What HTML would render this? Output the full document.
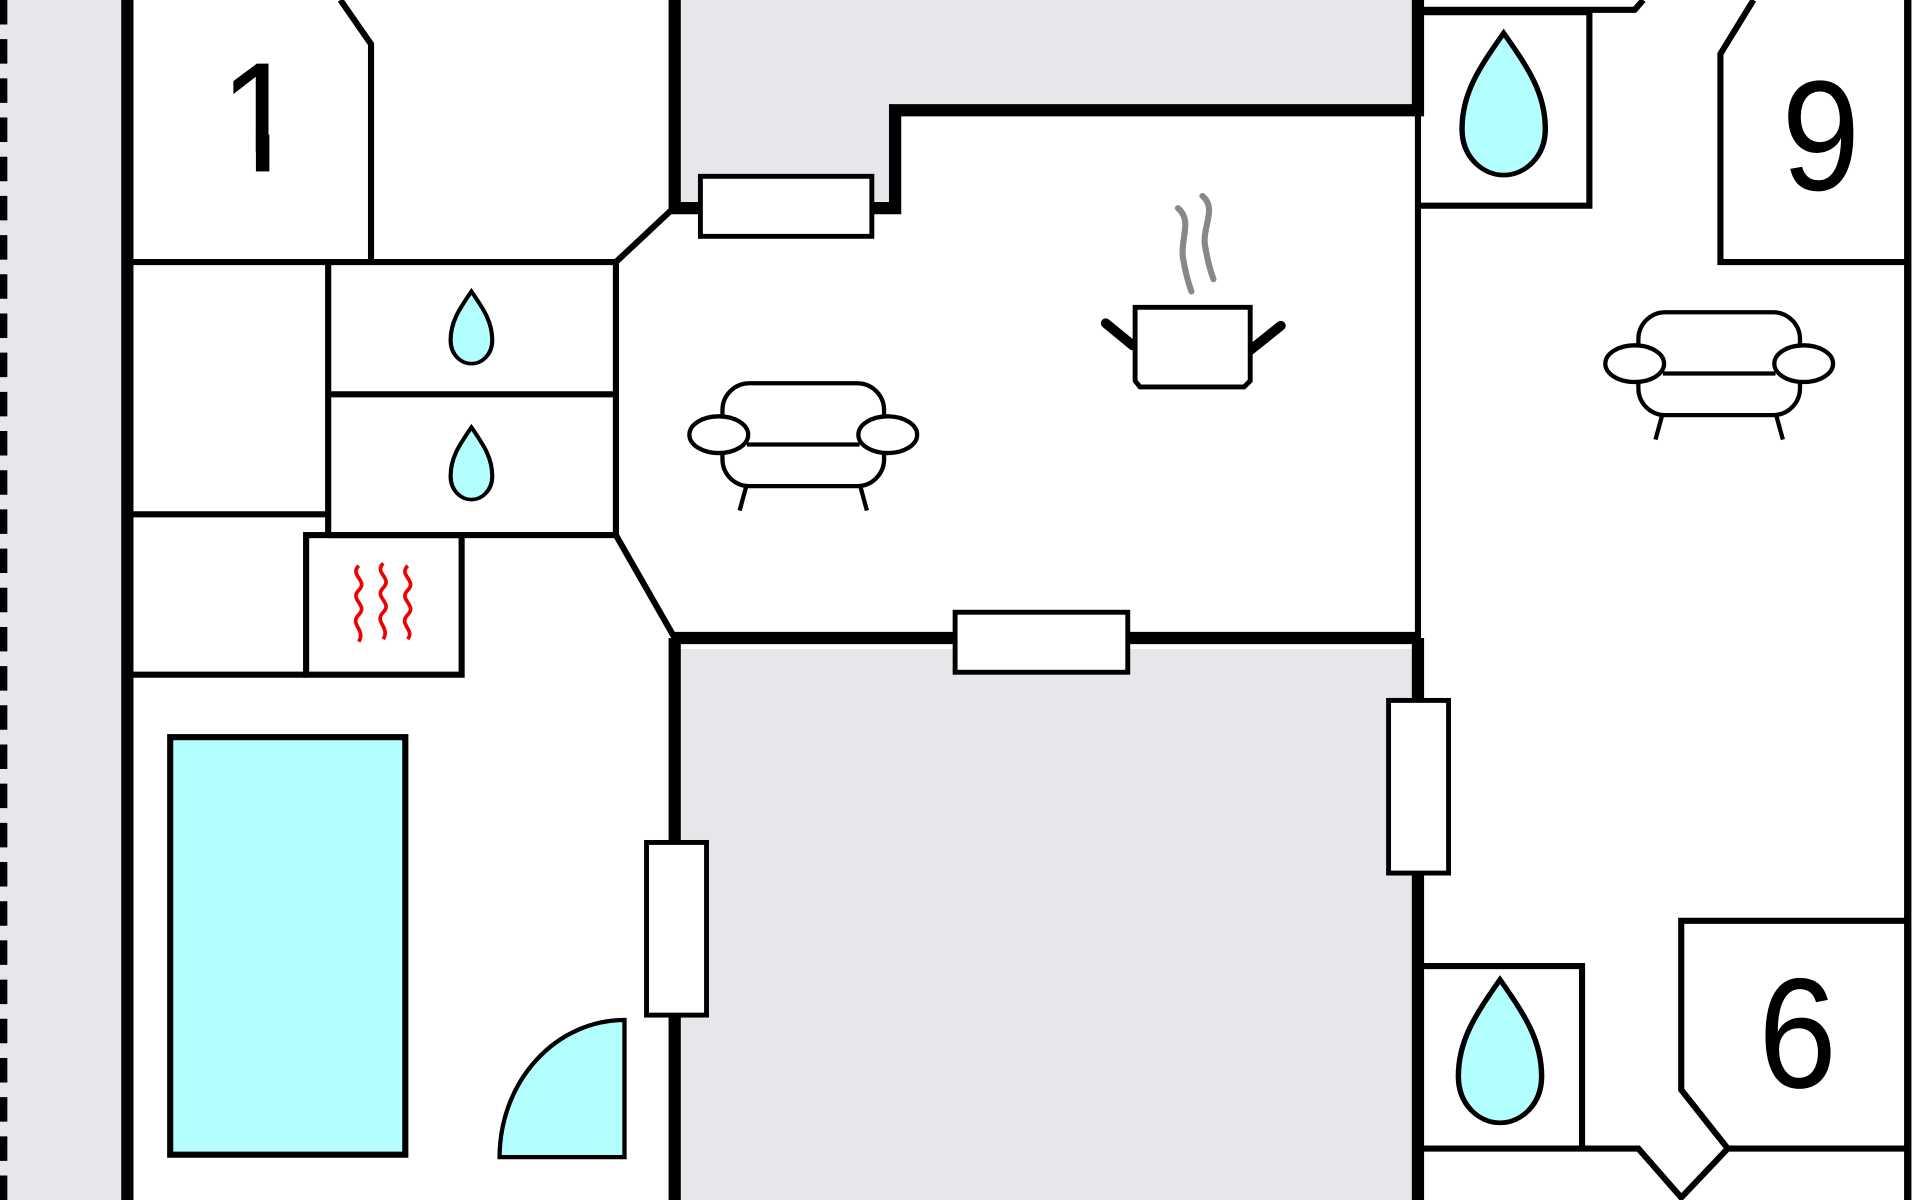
<!DOCTYPE html>
<html><head><style>html,body{margin:0;padding:0;background:#fff}svg{display:block}</style></head>
<body>
<svg width="1920" height="1200" viewBox="0 0 1568 980" xmlns="http://www.w3.org/2000/svg">
<defs>
<path id="drop" d="M0,-1 C-0.3,-0.5 -0.5,-0.15 -0.5,0.35 C-0.5,0.75 -0.25,1 0,1 C0.25,1 0.5,0.75 0.5,0.35 C0.5,-0.15 0.3,-0.5 0,-1 Z"/>
<g id="sofa" fill="#fff" stroke="#000" stroke-width="3.5">
<line x1="-46" y1="40" x2="-52" y2="62"/><line x1="46" y1="40" x2="52" y2="62"/>
<rect x="-66" y="-42" width="132" height="84" rx="22"/>
<line x1="-46" y1="8" x2="46" y2="8"/>
<ellipse cx="-69" cy="0" rx="24" ry="15"/><ellipse cx="69" cy="0" rx="24" ry="15"/>
</g>
</defs>
<rect width="1568" height="980" fill="#fff"/>
<rect x="0" y="0" width="100" height="980" fill="#e6e6eb"/>
<line x1="3" y1="0" x2="3" y2="980" stroke="#000" stroke-width="6" stroke-dasharray="20,12"/>
<path d="M556,0 H1155 V85 H728 V165 H556 Z" fill="#e6e6eb"/>
<rect x="556" y="530" width="599" height="450" fill="#e6e6eb"/>
<g font-family="Liberation Sans, Arial, sans-serif" font-size="128" fill="#000" text-anchor="middle">
<text x="212" y="140" transform="translate(212,0) scale(0.92,1) translate(-212,0)">1</text>
<text x="1487" y="155" transform="translate(1487,0) scale(0.9,1) translate(-1487,0)">9</text>
<text x="1468" y="888" transform="translate(1468,0) scale(0.9,1) translate(-1468,0)">6</text>
</g>
<rect x="178" y="124" width="72" height="20" fill="#fff"/>
<rect x="209" y="110" width="11" height="30" fill="#000"/>
<g fill="none" stroke="#000" stroke-linejoin="miter">
<line x1="104" y1="0" x2="104" y2="980" stroke-width="10"/>
<line x1="1558" y1="0" x2="1558" y2="980" stroke-width="6"/>
<g stroke-width="5">
<path d="M278,0 L303,36 V214"/>
<path d="M104,214 H503 L550,170"/>
<path d="M268,214 V437 M268,322 H503 M503,214 V437 M104,420 H268 M268,437 H503 L551,521"/>
<path d="M104,551 H250"/>
<rect x="250" y="437" width="127" height="114"/>
<path d="M1160,10 H1298 V168 H1160 M1160,8 H1335 L1342,0"/>
<path d="M1432,0 L1405,44 V214 H1557"/>
<path d="M1160,789 H1292 V937"/>
<path d="M1160,938 H1338 L1373,978 L1411,938 H1557 M1557,752 H1373 V890 L1411,938"/>
<line x1="1158" y1="90" x2="1158" y2="521" stroke-width="5"/>
</g>
<g stroke-width="10">
<path d="M551,0 V170 H572"/>
<path d="M712,170 H731 V90 H1158 V0"/>
<path d="M551,521 H1158"/>
<path d="M551,521 V980"/>
<path d="M1158,521 V980"/>
</g>
</g>
<g fill="#fff" stroke="#000" stroke-width="4">
<rect x="572" y="144" width="140" height="49"/>
<rect x="780" y="500" width="141" height="49"/>
<rect x="528" y="688" width="49" height="141"/>
<rect x="1134" y="572" width="49" height="141"/>
</g>
<rect x="139" y="602" width="192" height="341" fill="#b3ffff" stroke="#000" stroke-width="5"/>
<path d="M510,833 V945 H408 A102,112 0 0 1 510,833 Z" fill="#b3ffff" stroke="#000" stroke-width="3.5"/>
<g fill="#b3ffff" stroke="#000">
<use href="#drop" transform="translate(385,267.5) scale(34,29.5)" stroke-width="0.1"/>
<use href="#drop" transform="translate(385,378.5) scale(34,29.5)" stroke-width="0.1"/>
<use href="#drop" transform="translate(1228,85) scale(68,58)" stroke-width="0.065"/>
<use href="#drop" transform="translate(1225,858.5) scale(68,58.5)" stroke-width="0.065"/>
</g>
<g fill="none" stroke="#e00" stroke-width="3">
<path d="M293,462 c-8,8 8,12 0,20 c-8,8 8,12 0,20 c-8,8 6,12 0,22"/>
<path d="M313,460 c-8,8 8,12 0,20 c-8,8 8,12 0,20 c-8,8 6,12 0,22"/>
<path d="M333,462 c-8,8 8,12 0,20 c-8,8 8,12 0,20 c-8,8 6,12 0,20"/>
</g>
<use href="#sofa" transform="translate(656,355)"/>
<use href="#sofa" transform="translate(1404,297)"/>
<g stroke="#000">
<path d="M903,264 L925,282 M1046,266 L1021,286" stroke-width="8" stroke-linecap="round"/>
<path d="M927,251 H1021 V311 L1016,316 H931 L927,311 Z" fill="#fff" stroke-width="4"/>
<g fill="none" stroke="#888" stroke-width="5" stroke-linecap="round">
<path d="M962,170 C974,180 964,195 966,210 C968,222 970,230 973,238"/>
<path d="M982,160 C994,170 982,185 984,200 C986,212 988,220 991,228"/>
</g>
</g>
</svg>
</body></html>
